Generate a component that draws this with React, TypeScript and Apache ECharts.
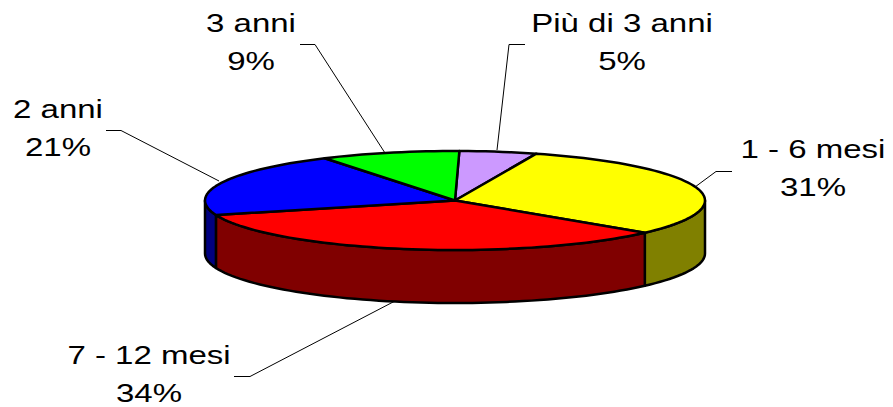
import React, { useEffect, useRef } from "react";
import * as echarts from "echarts";

const categories = ["Più di 3 anni", "1 - 6 mesi", "7 - 12 mesi", "2 anni", "3 anni"];
const values = [5, 31, 34, 21, 9];
const topColors = ["#CC99FF", "#FFFF00", "#FF0000", "#0000FF", "#00FF00"];
const sideColors = ["#664C80", "#808000", "#800000", "#000080", "#008000"];

const CX = 455;
const CY = 200.5;
const RX = 250;
const RY = 49.5;
const DEPTH = 53;
const START_DEG = 1;
const FONT_SIZE = 26;
const STRETCH = 1.27;
const LINE_GAP = 38;

const labelCentres = [
  [622, 23],
  [813, 149],
  [149, 355],
  [58, 109],
  [251, 23],
];
const leaderLines = [
  [[525, 44.5], [509, 44.5], [497, 150]],
  [[732, 171.5], [716, 171.5], [695, 187]],
  [[234, 376.5], [250, 376.5], [395, 301]],
  [[106, 130.5], [121, 130.5], [219, 181]],
  [[300, 44.5], [315, 44.5], [385, 153]],
];

const total = values.reduce((a, b) => a + b, 0);

function sliceRange(i: number): [number, number] {
  const before = values.slice(0, i).reduce((a, b) => a + b, 0);
  return [
    START_DEG + (before / total) * 360,
    START_DEG + ((before + values[i]) / total) * 360,
  ];
}

function rimPoint(deg: number, dy = 0): number[] {
  const r = (deg * Math.PI) / 180;
  return [CX + RX * Math.sin(r), CY - RY * Math.cos(r) + dy];
}

function arc(a: number, b: number, dy = 0): number[][] {
  const n = Math.max(2, Math.ceil(Math.abs(b - a) / 2));
  const out: number[][] = [];
  for (let k = 0; k <= n; k++) out.push(rimPoint(a + ((b - a) * k) / n, dy));
  return out;
}

const edge = { stroke: "#000", lineWidth: 2.5, lineJoin: "round" as const };

function renderSide(params: any) {
  const [a, b] = sliceRange(params.dataIndex);
  const from = Math.max(a, 90);
  const to = Math.min(b, 270);
  if (from >= to) return { type: "group", children: [] };
  return {
    type: "polygon",
    shape: { points: [...arc(from, to), ...arc(to, from, DEPTH)] },
    style: { fill: sideColors[params.dataIndex], ...edge },
  };
}

function renderTop(params: any) {
  const [a, b] = sliceRange(params.dataIndex);
  return {
    type: "polygon",
    shape: { points: [[CX, CY], ...arc(a, b)] },
    style: { fill: topColors[params.dataIndex], ...edge },
  };
}

const labelElements = categories.flatMap((name, i) => {
  const [x, y] = labelCentres[i];
  const pct = `${Math.round((values[i] / total) * 100)}%`;
  const text = (t: string, ty: number) => ({
    type: "text",
    x,
    y: ty,
    scaleX: STRETCH,
    silent: true,
    style: {
      text: t,
      fill: "#000",
      font: `${FONT_SIZE}px "Liberation Sans", Arial, sans-serif`,
      textAlign: "center",
      textVerticalAlign: "middle",
    },
  });
  return [
    text(name, y),
    text(pct, y + LINE_GAP),
    {
      type: "polyline",
      silent: true,
      shape: { points: leaderLines[i] },
      style: { stroke: "#000", lineWidth: 1, fill: "none" },
    },
  ];
});

export default function App() {
  const ref = useRef<HTMLDivElement>(null);
  useEffect(() => {
    const chart = echarts.init(ref.current!, null, { renderer: "svg" });
    chart.setOption({
      animation: false,
      backgroundColor: "#fff",
      series: [
        {
          type: "custom",
          coordinateSystem: "none",
          silent: true,
          z: 1,
          data: values,
          renderItem: renderSide,
        },
        {
          type: "custom",
          coordinateSystem: "none",
          silent: true,
          z: 2,
          data: values,
          renderItem: renderTop,
        },
      ],
      graphic: { elements: labelElements },
    });
    return () => chart.dispose();
  }, []);
  return (
    <div
      ref={ref}
      style={{ position: "fixed", left: 0, top: 0, width: 893, height: 407 }}
    />
  );
}
